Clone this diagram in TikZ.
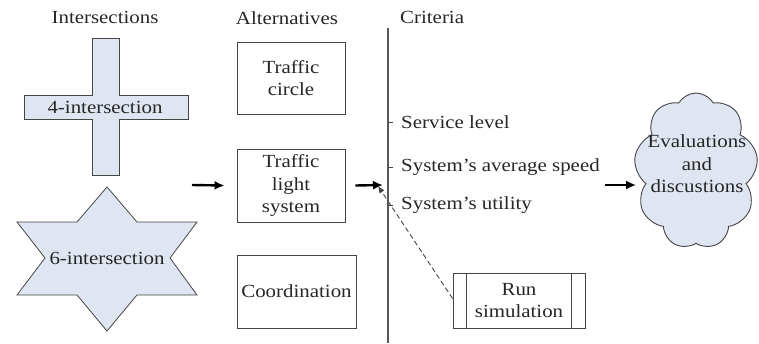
\documentclass[tikz,border=0pt]{standalone}
\usepackage{fontspec}
\setmainfont{Liberation Serif}[FakeStretch=1.13]
\usetikzlibrary{arrows.meta,shapes.symbols}
\definecolor{shapefill}{HTML}{DFE6F1}
\definecolor{edge}{HTML}{454545}
\begin{document}
\begin{tikzpicture}[x=1pt,y=-1pt,
  every node/.style={font=\fontsize{18.5}{22.5}\selectfont, text=black!85, inner sep=0pt},
  altbox/.style={draw=edge, line width=0.9pt, align=center},
  shapeline/.style={draw=edge, line width=0.8pt, fill=shapefill},
  arr/.style={line width=2.4pt, -{Latex[length=10pt,width=9pt]}},
  dasharr/.style={draw=edge, line width=0.9pt, dashed, dash pattern=on 5pt off 3pt, -{Latex[length=7pt,width=6pt]}},
  tick/.style={draw=edge, line width=0.8pt}]
\useasboundingbox (0,0) rectangle (759,343);
% titles
\node (tInt) at (105,17) {Intersections};
\node (tAlt) at (287,18) {Alternatives};
\node[anchor=west] (tCri) at (400,17) {Criteria};
% cross
\path[shapeline] (92,38) -- (119,38) -- (119,95) -- (188,95) -- (188,119) -- (119,119)
  -- (119,175) -- (92,175) -- (92,119) -- (24,119) -- (24,95) -- (92,95) -- cycle;
\node (four) at (105,107) {4-intersection};
% star
\path[shapeline] (107,187) -- (137,222) -- (197,222) -- (170,258) -- (197,295) -- (137,295)
  -- (107,331) -- (77,295) -- (17,295) -- (45,258) -- (17,222) -- (77,222) -- cycle;
\node (six) at (107,258) {6-intersection};
% alternatives
\node[altbox, minimum width=108pt, minimum height=72pt] (tc) at (291,78) {Traffic\\circle};
\node[altbox, minimum width=108pt, minimum height=73pt] (tl) at (291,185.5) {Traffic\\light\\system};
\node[altbox, minimum width=119pt, minimum height=73pt] (co) at (296.5,291.5) {Coordination};
% arrows into/out of alternatives
\coordinate (a1s) at (192,185);
\coordinate (a2e) at (383,185);
\draw[arr] (a1s) -- ([xshift=-12pt]tl.west);
\draw[arr] ([xshift=10pt]tl.east) -- (a2e);
% criteria line
\coordinate (ltop) at (388,28);
\coordinate (lbot) at (388,343);
\draw[draw=edge!90, line width=1.2pt] (ltop) -- (lbot);
\coordinate (k1) at (388,122);
\coordinate (k2) at (388,167);
\coordinate (k3) at (388,205);
\draw[tick] (k1) -- ++(5,0);
\draw[tick] (k2) -- ++(5,0);
\draw[tick] (k3) -- ++(5,0);
\node[anchor=west] (c1) at (401,122) {Service level};
\node[anchor=west] (c2) at (401,167) {System’s average speed};
\node[anchor=west] (c3) at (401,205) {System’s utility};
% run simulation
\node[altbox, minimum width=132pt, minimum height=55pt] (run) at (519,300.5) {Run\\simulation};
\draw[draw=edge, line width=0.9pt] ([xshift=14pt]run.north west) -- ([xshift=14pt]run.south west);
\draw[draw=edge, line width=0.9pt] ([xshift=-14pt]run.north east) -- ([xshift=-14pt]run.south east);
\coordinate (dtip) at (378,186);
\draw[dasharr] ([yshift=2pt]run.west) -- (dtip);
% cloud
\node[cloud, cloud puffs=9, cloud puff arc=120, cloud ignores aspect, draw=edge, line width=0.9pt,
  fill=shapefill, minimum width=124pt, minimum height=156pt] (ev) at (696,171) {};
\node[align=center] (evt) at (697,164) {Evaluations\\and\\discustions};
\coordinate (a3s) at (605,185);
\draw[arr] (a3s) -- (ev.west |- a3s);
\end{tikzpicture}
\end{document}
